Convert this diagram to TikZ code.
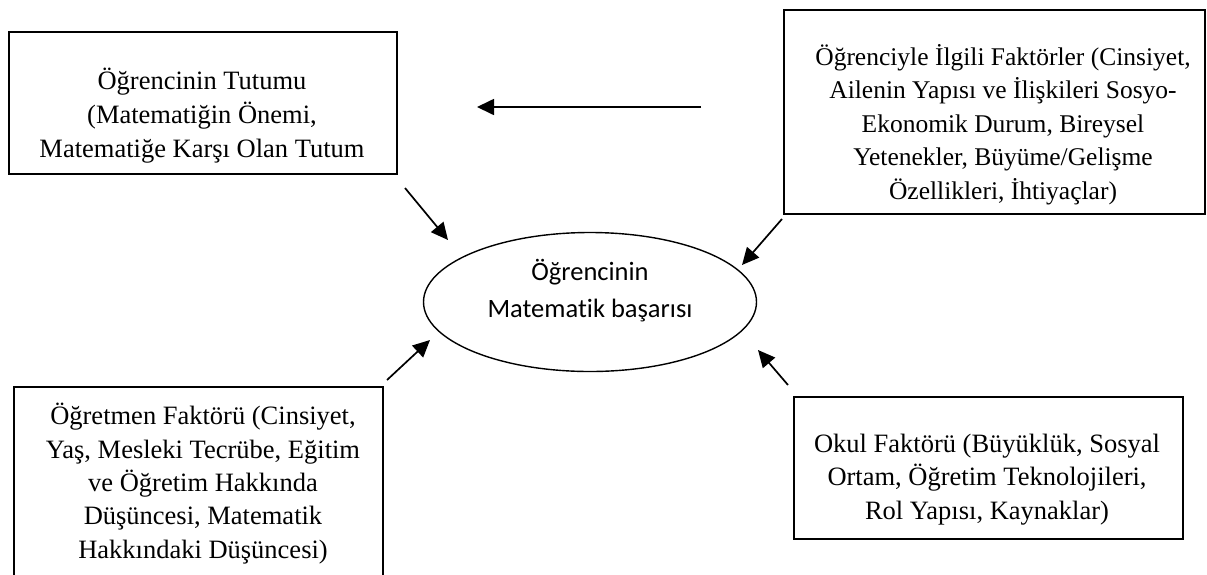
\documentclass[tikz,border=0pt]{standalone}
\usepackage{fontspec}
\setmainfont{Liberation Serif}
\newfontfamily\calfont[Ligatures=NoCommon]{Carlito}
\usetikzlibrary{arrows.meta,shapes.geometric}
\tikzset{
  frame/.style={draw, line width=1.5pt, inner sep=0pt, anchor=north west},
  boxtext/.style={align=center, inner sep=0pt, anchor=base, font=\fontsize{26.5}{34}\selectfont},
  oval/.style={draw, ellipse, line width=1.4pt, inner sep=0pt, minimum width=333pt, minimum height=139pt},
  arr/.style={line width=1.7pt, -{Triangle[length=17pt, width=16pt]}}
}
\begin{document}
\begin{tikzpicture}[x=1pt, y=-1pt]
\useasboundingbox (0,0) rectangle (1207,574);
% boxes
\node[frame, minimum width=388pt, minimum height=142pt] (tlbox) at (8,31) {};
\node[boxtext] (tltext) at (202,157) {Öğrencinin Tutumu\\(Matematiğin Önemi,\\Matematiğe Karşı Olan Tutum};
\node[frame, minimum width=421pt, minimum height=204pt] (trbox) at (783,9) {};
\node[boxtext, font=\fontsize{25.5}{33.5}\selectfont] (trtext) at (1003,199) {Öğrenciyle İlgili Faktörler (Cinsiyet,\\Ailenin Yapısı ve İlişkileri Sosyo-\\Ekonomik Durum, Bireysel\\Yetenekler, Büyüme/Gelişme\\Özellikleri, İhtiyaçlar)};
\node[frame, minimum width=369pt, minimum height=200pt] (blbox) at (13,386) {};
\node[boxtext, font=\fontsize{26.5}{33.3}\selectfont] (bltext) at (203,558) {Öğretmen Faktörü (Cinsiyet,\\Yaş, Mesleki Tecrübe, Eğitim\\ve Öğretim Hakkında\\Düşüncesi, Matematik\\Hakkındaki Düşüncesi)};
\node[frame, minimum width=389pt, minimum height=142pt] (brbox) at (793,396) {};
\node[boxtext, font=\fontsize{26.5}{33.5}\selectfont] (brtext) at (987,519) {Okul Faktörü (Büyüklük, Sosyal\\Ortam, Öğretim Teknolojileri,\\Rol Yapısı, Kaynaklar)};
% ellipse
\node[oval] (center) at (590,302) {};
\node[align=center, inner sep=0pt, anchor=base, font=\calfont\fontsize{26.5}{37}\selectfont] (ctext) at (590,317) {Öğrencinin\\Matematik başarısı};
% arrow end points
\coordinate (h1) at (701,107);
\coordinate (h2) at (477,107);
\coordinate (a1) at (405,188);
\coordinate (a2) at (448,240);
\coordinate (b1) at (782,219);
\coordinate (b2) at (742,265);
\coordinate (c1) at (387,380);
\coordinate (c2) at (430,340);
\coordinate (d1) at (788,385);
\coordinate (d2) at (758,350);
\draw[arr] (h1) -- (h2);
\draw[arr] (a1) -- (a2);
\draw[arr] (b1) -- (b2);
\draw[arr] (c1) -- (c2);
\draw[arr] (d1) -- (d2);
\end{tikzpicture}
\end{document}
